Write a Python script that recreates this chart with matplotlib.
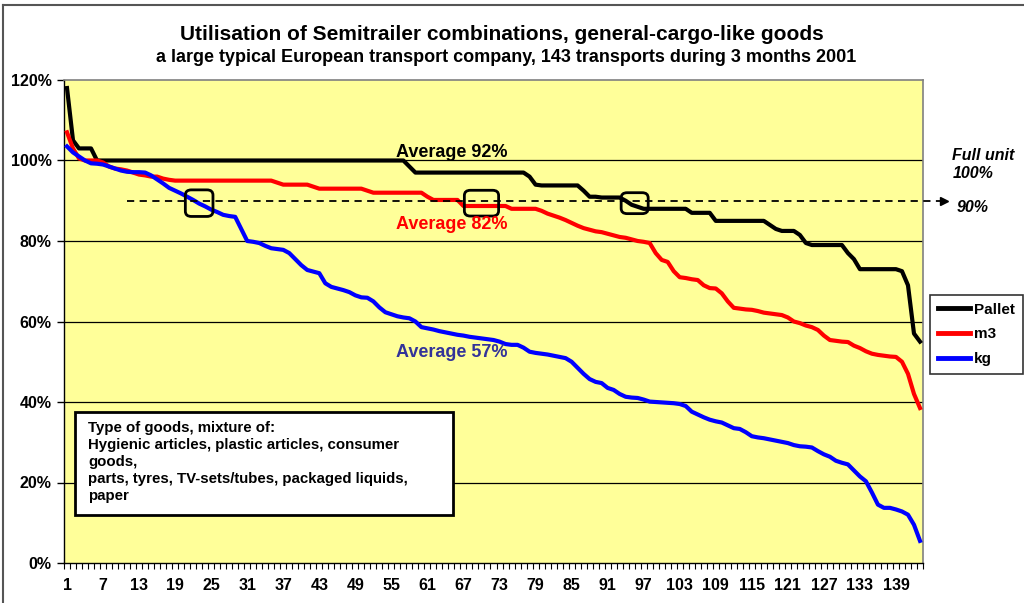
import numpy as np
import matplotlib
matplotlib.use("Agg")
import matplotlib.pyplot as plt
from matplotlib.patches import Rectangle, FancyBboxPatch
from matplotlib.lines import Line2D

plt.rcParams['font.family'] = ['Liberation Sans', 'DejaVu Sans']

# transport number 1..143, sorted by utilisation
transports = np.arange(1, 144)

pallet = [
    118, 105, 103, 103, 103, 100, 100, 100, 100, 100,
    100, 100, 100, 100, 100, 100, 100, 100, 100, 100,
    100, 100, 100, 100, 100, 100, 100, 100, 100, 100,
    100, 100, 100, 100, 100, 100, 100, 100, 100, 100,
    100, 100, 100, 100, 100, 100, 100, 100, 100, 100,
    100, 100, 100, 100, 100, 100, 100, 98.5, 97, 97,
    97, 97, 97, 97, 97, 97, 97, 97, 97, 97,
    97, 97, 97, 97, 97, 97, 97, 96, 94, 93.8,
    93.8, 93.8, 93.8, 93.8, 93.8, 93.8, 92.5, 91, 91, 90.8,
    90.8, 90.8, 90.8, 90, 89, 88.5, 88, 88, 88, 88,
    88, 88, 88, 88, 87, 87, 87, 87, 85, 85,
    85, 85, 85, 85, 85, 85, 85, 84, 83, 82.5,
    82.5, 82.5, 81.5, 79.5, 79, 79, 79, 79, 79, 79,
    77, 75.5, 73, 73, 73, 73, 73, 73, 73, 72.5,
    69, 57, 55,
]

m3 = [
    107, 103, 100.5, 100, 100, 100, 99.5, 98.5, 98, 97.8,
    97.5, 97, 96.5, 96.3, 96, 96, 95.5, 95.2, 95, 95,
    95, 95, 95, 95, 95, 95, 95, 95, 95, 95,
    95, 95, 95, 95, 95, 94.5, 94, 94, 94, 94,
    94, 93.5, 93, 93, 93, 93, 93, 93, 93, 93,
    92.5, 92, 92, 92, 92, 92, 92, 92, 92, 92,
    91, 90.2, 90.2, 90.2, 90.2, 90.2, 88.7, 88.7, 88.7, 88.7,
    88.7, 88.7, 88.7, 88.7, 88, 88, 88, 88, 88, 87.5,
    86.8, 86.3, 85.8, 85.2, 84.5, 83.8, 83.2, 82.8, 82.4, 82.2,
    81.8, 81.4, 81, 80.8, 80.4, 80, 79.8, 79.5, 77, 75.3,
    74.8, 72.5, 71, 70.8, 70.5, 70.3, 69, 68.3, 68.2, 67,
    65, 63.4, 63.2, 63, 62.9, 62.6, 62.2, 62, 61.8, 61.6,
    61, 60, 59.6, 59, 58.6, 57.9, 56.5, 55.4, 55.2, 55,
    54.9, 54, 53.4, 52.6, 52, 51.7, 51.5, 51.3, 51.2, 50,
    47, 42, 38.5,
]

kg = [
    103.5, 102, 101, 100, 99.3, 99.2, 99, 98.5, 98, 97.5,
    97.2, 97.1, 97.1, 97, 96.3, 95.3, 94.3, 93.2, 92.5, 91.8,
    91, 90.2, 89.3, 88.6, 87.8, 87.2, 86.5, 86.2, 86, 83,
    80, 79.8, 79.5, 78.8, 78.2, 78, 77.8, 77, 75.5, 74,
    72.8, 72.4, 72, 69.5, 68.6, 68.2, 67.8, 67.3, 66.5, 66,
    65.9, 65, 63.5, 62.3, 61.8, 61.3, 61, 60.8, 60, 58.6,
    58.3, 58, 57.6, 57.3, 57, 56.7, 56.5, 56.2, 56, 55.8,
    55.6, 55.4, 55, 54.4, 54.2, 54.2, 53.5, 52.5, 52.2, 52,
    51.8, 51.5, 51.2, 50.9, 50, 48.5, 47, 45.7, 45, 44.7,
    43.5, 43, 42, 41.3, 41.1, 41, 40.6, 40.1, 40, 39.9,
    39.8, 39.7, 39.5, 39, 37.6, 36.9, 36.2, 35.6, 35.2, 34.9,
    34.2, 33.5, 33.3, 32.5, 31.5, 31.2, 31, 30.7, 30.4, 30.1,
    29.8, 29.3, 29, 28.9, 28.7, 27.8, 27, 26.4, 25.4, 24.9,
    24.5, 23, 21.5, 20.3, 17.5, 14.5, 13.7, 13.7, 13.3, 12.8,
    12, 9.5, 5.5,
]

series_names = ['Pallet', 'm3', 'kg']
series_colors = ['#000000', '#FF0000', '#0000FF']
averages = [92, 82, 57]
average_colors = ['#000000', '#FF0000', '#333399']
full_unit_level = 90
# transports highlighted where each curve crosses the 90% level
marked = [23, 70, 95.5]

x_labels = transports[::6]
y_ticks = [0, 20, 40, 60, 80, 100, 120]

goods_text = ("Type of goods, mixture of:\n"
              "Hygienic articles, plastic articles, consumer\n"
              "goods,\n"
              "parts, tyres, TV-sets/tubes, packaged liquids,\n"
              "paper")

fig = plt.figure(figsize=(10.24, 6.03), dpi=100)
W, H = 1024, 603
ax = fig.add_axes([64 / W, (H - 563) / H, (923 - 64) / W, (563 - 80) / H])
ax.set_facecolor('#FFFF99')

# frame around the whole chart area
fig.add_artist(Line2D([3 / W, 3 / W], [0, 1 - 5 / H], color='#555555', lw=1.5))
fig.add_artist(Line2D([3 / W, 1], [1 - 5 / H, 1 - 5 / H], color='#555555', lw=1.5))

for y in y_ticks[1:-1]:
    ax.axhline(y, color='#000000', lw=0.9, zorder=1)

for vals, name, col in zip([pallet, m3, kg], series_names, series_colors):
    ax.plot(transports, vals, color=col, lw=3, label=name, zorder=3,
            solid_joinstyle='round')

ax.set_xlim(0.5, 143.5)
ax.set_ylim(0, 120)

# 90% full unit line with arrow out of the plot
ax.plot([11, 146.5], [full_unit_level, full_unit_level], color='black', lw=1.3,
        ls=(0, (4, 3)), clip_on=False, zorder=4)
ax.plot([147.0], [full_unit_level], marker='>', color='black', ms=6,
        clip_on=False, zorder=4)

box_w = [4.6, 5.7, 4.5]
box_h = [6.6, 6.4, 5.2]
for xm, bw, bh in zip(marked, box_w, box_h):
    ax.add_patch(FancyBboxPatch((xm - bw / 2, full_unit_level - bh / 2 - 0.6), bw, bh,
                                boxstyle='round,pad=0,rounding_size=1.0',
                                fill=False, ec='black', lw=2, zorder=5,
                                mutation_aspect=1.3))

avg_y = [101.9, 84.0, 52.2]
for a, c, yy in zip(averages, average_colors, avg_y):
    ax.text(65.0, yy, f"Average {a}%", color=c, fontsize=13, fontweight='bold',
            ha='center', va='center', zorder=6)

# description box
ax.add_patch(Rectangle((2.33, 11.9), 62.9, 25.6, fc='white', ec='black',
                       lw=2, zorder=6))
ax.text(4.5, 35.2, goods_text, fontsize=10.8, fontweight='bold', ha='left',
        va='top', linespacing=1.27, zorder=7)

fig.text(952 / W, 1 - 155 / H, "Full unit", fontsize=11.5, fontweight='bold',
         style='italic', ha='left', va='center')
fig.text(953 / W, 1 - 173 / H, "100%", fontsize=11.5, fontweight='bold',
         style='italic', ha='left', va='center')
fig.text(957 / W, 1 - 208 / H, "90%", fontsize=11.5, fontweight='bold',
         style='italic', ha='left', va='center')

ax.set_xticks(x_labels)
ax.set_xticklabels([str(v) for v in x_labels], fontsize=11.5, fontweight='bold')
ax.set_xticks(np.arange(0.5, 144, 1), minor=True)
ax.tick_params(axis='x', which='major', length=0, pad=11)
ax.tick_params(axis='x', which='minor', length=4, width=0.8, direction='out')
ax.set_yticks(y_ticks)
ax.set_yticklabels([f"{v}%" for v in y_ticks], fontsize=11.5, fontweight='bold')
ax.tick_params(axis='y', length=5, width=1, direction='out', pad=4)

for side in ['top', 'right']:
    ax.spines[side].set_color('#808080')
    ax.spines[side].set_linewidth(1.2)
for side in ['left', 'bottom']:
    ax.spines[side].set_color('#000000')
    ax.spines[side].set_linewidth(1.0)

leg = fig.legend(loc='upper left', bbox_to_anchor=(930 / W, 1 - 295 / H),
                 prop={'weight': 'bold', 'size': 11}, frameon=True, fancybox=False,
                 edgecolor='black', handlelength=2.1, borderpad=0.5,
                 labelspacing=0.7, handletextpad=0.3, borderaxespad=0)
leg.get_frame().set_linewidth(1.2)
for line in leg.get_lines():
    line.set_linewidth(3.5)

fig.text(502 / W, 1 - 35 / H, "Utilisation of Semitrailer combinations, general-cargo-like goods",
         fontsize=15, fontweight='bold', ha='center', va='center')
fig.text(506 / W, 1 - 58 / H,
         "a large typical European transport company, 143 transports during 3 months 2001",
         fontsize=13, fontweight='bold', ha='center', va='center')

fig.savefig('out.png', dpi=100)
